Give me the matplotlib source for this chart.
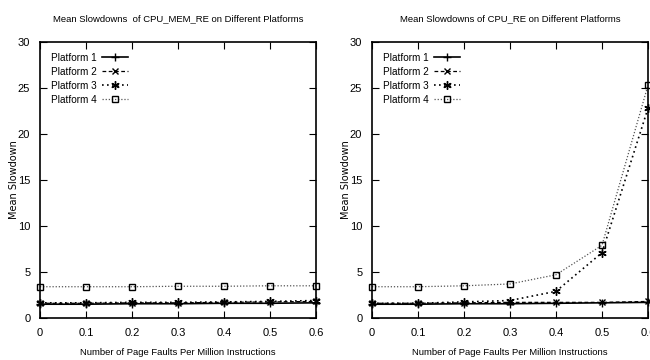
import numpy as np
import matplotlib.pyplot as plt

plt.rcParams['font.family'] = ['Liberation Sans Narrow', 'Liberation Sans', 'DejaVu Sans']

# Данные
x = [0, 0.1, 0.2, 0.3, 0.4, 0.5, 0.6]
labels = ['Platform 1', 'Platform 2', 'Platform 3', 'Platform 4']

mem_p1 = [1.5, 1.5, 1.55, 1.55, 1.6, 1.6, 1.65]
mem_p2 = [1.6, 1.6, 1.65, 1.65, 1.7, 1.75, 1.8]
mem_p3 = [1.65, 1.65, 1.7, 1.7, 1.75, 1.8, 1.9]
mem_p4 = [3.4, 3.4, 3.4, 3.45, 3.45, 3.5, 3.5]

re_p1 = [1.5, 1.5, 1.55, 1.55, 1.6, 1.65, 1.7]
re_p2 = [1.6, 1.6, 1.65, 1.7, 1.7, 1.7, 1.8]
re_p3 = [1.6, 1.6, 1.75, 1.9, 2.9, 7.1, 22.8]
re_p4 = [3.4, 3.4, 3.5, 3.7, 4.7, 7.9, 25.3]

titles = ['Mean Slowdowns  of CPU_MEM_RE on Different Platforms',
          'Mean Slowdowns of CPU_RE on Different Platforms']

styles = [
    dict(color='black', linestyle='-', marker='+', markersize=6, linewidth=1.2),
    dict(color='black', linestyle=(0, (3, 2)), marker='x', markersize=4, linewidth=0.9),
    dict(color='black', linestyle=(0, (1, 2)), marker=(6, 2, 0), markersize=6, linewidth=1.2),
    dict(color='#555555', linestyle=(0, (1, 1.5)), marker='s', markersize=5,
         markerfacecolor='none', markeredgecolor='black', linewidth=0.9),
]

fig = plt.figure(figsize=(6.5, 3.6), dpi=100)
ax1 = fig.add_axes([40 / 650, 42 / 360, 276 / 650, 276 / 360])
ax2 = fig.add_axes([372 / 650, 42 / 360, 276 / 650, 276 / 360])

for ax, series, title in [(ax1, [mem_p1, mem_p2, mem_p3, mem_p4], titles[0]),
                          (ax2, [re_p1, re_p2, re_p3, re_p4], titles[1])]:
    for y, lab, st in zip(series, labels, styles):
        ax.plot(x, y, label=lab, clip_on=False, **st)
    ax.set_xlim(0, 0.6)
    ax.set_ylim(0, 30)
    ax.set_xticks(x)
    ax.set_xticklabels(['0', '0.1', '0.2', '0.3', '0.4', '0.5', '0.6'])
    ax.set_yticks([0, 5, 10, 15, 20, 25, 30])
    ax.tick_params(direction='in', top=True, right=True, labelsize=8, length=5, pad=7)
    for s in ax.spines.values():
        s.set_linewidth(1.2)
    ax.set_title(title, fontsize=6.8, pad=15)
    ax.set_xlabel('Number of Page Faults Per Million Instructions', fontsize=6.8)
    ax.xaxis.set_label_coords(0.5, -0.11)
    ax.set_ylabel('Mean Slowdown', fontsize=7, family='DejaVu Sans')
    ax.yaxis.set_label_coords(-0.077, 0.5)
    ax.legend(loc='upper left', frameon=False, markerfirst=False, fontsize=7.2,
              handlelength=2.6, labelspacing=0.4, borderaxespad=0.7, handletextpad=0.5)

fig.savefig('out.png', dpi=100)
